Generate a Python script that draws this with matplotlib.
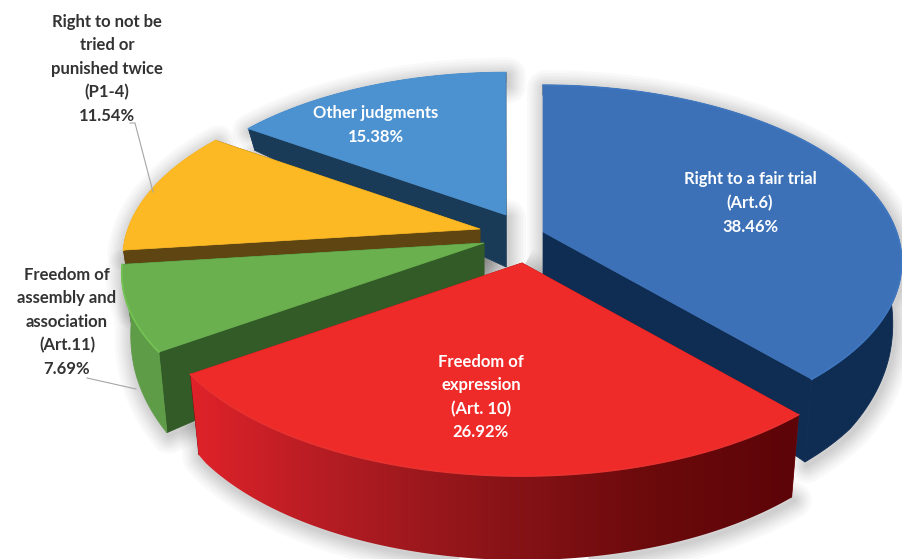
import numpy as np
import matplotlib
matplotlib.use('Agg')
import matplotlib.pyplot as plt
from matplotlib.colors import LinearSegmentedColormap
from matplotlib.patches import Polygon

plt.rcParams['font.family'] = ['Lato', 'DejaVu Sans']

# chart data, clockwise from 12 o'clock
categories = ['Right to a fair trial\n(Art.6)', 'Freedom of\nexpression\n(Art. 10)',
              'Freedom of\nassembly and\nassociation\n(Art.11)',
              'Right to not be\ntried or\npunished twice\n(P1-4)', 'Other judgments']
shares = [38.46, 26.92, 7.69, 11.54, 15.38]

top_colors = ['#3c71b8', '#ef2b2a', '#6ab04f', '#fdb924', '#4c92d1']
cut_colors = ['#0f2c52', '#7a0d10', '#335b27', '#5e4512', '#1a3b57']
# wall gradients run left to right on the page
wall_colors = [['#0f2c52'],
               ['#e0222a', '#b01c22', '#8a1418', '#6c0a0c', '#5c0408'],
               ['#5f9c48'], ['#5e4512'], ['#1a3b57']]
rim_colors = ['#3f77c0', '#e8322f', '#74c455', '#fdb924', '#4c92d1']

# where each slice sits on the page (exploded pie), in pixels
apex = [(543, 232), (522, 263), (484, 243), (480, 229), (506, 215)]
scale = [1.01, 1.04, 1.02, 1.005, 0.98]
draw_order = [4, 3, 0, 2, 1]

label_pos = [(750, 203), (481, 397), (67, 322), (107, 69), (376, 125)]
label_color = ['white', 'white', '#333333', '#333333', 'white']

# perspective of the pie plane
A, B, K = 350.0, 170.0, 0.17


def project(ang, r, i):
    x = r * np.sin(ang)
    y = r * np.cos(ang)
    den = 1 + K * y
    return apex[i][0] + A * scale[i] * x / den, apex[i][1] - B * scale[i] * y / den


def drop(ang, r, i):
    # same point on the underside of the slab
    sx, sy = project(ang, r, i)
    y = r * np.cos(ang)
    depth = np.interp(y, [-1, -0.6, -0.3, 0, 0.6, 1], [84, 82, 69, 52, 20, 10])
    return apex[i][0] + (sx - apex[i][0]) * 0.975, sy + depth


fig = plt.figure(figsize=(9.03, 5.59), dpi=100)
ax = fig.add_axes([0, 0, 1, 1])

edges = np.radians(np.concatenate([[0], np.cumsum(shares)]) * 3.6)

# soft shadow first, under everything
for i in range(len(shares)):
    t = np.linspace(edges[i], edges[i + 1], 80)
    tx, ty = project(t, 1.0, i)
    bx, by = drop(t, 1.0, i)
    ax0, ay0 = project(0.0, 0.0, i)
    dx0, dy0 = drop(0.0, 0.0, i)
    xs = np.concatenate([[ax0], tx, bx[::-1], [dx0]])
    ys = np.concatenate([[ay0], ty, by[::-1], [dy0]])
    for lw in [3, 6, 9, 12, 15, 18, 22, 26]:
        ax.add_patch(Polygon(np.c_[xs + 2, ys + 3], closed=True, fc='none', ec='black',
                             lw=lw, alpha=0.022, joinstyle='round', zorder=1))

for n, i in enumerate(draw_order):
    z = 2 + n * 5
    a0, a1 = edges[i], edges[i + 1]

    # the two cut faces, far one first
    cuts = [a0, a1] if np.cos(a0) > np.cos(a1) else [a1, a0]
    for a in cuts:
        p1 = project(0.0, 0.0, i)
        p2 = project(a, 1.0, i)
        p3 = drop(a, 1.0, i)
        p4 = drop(0.0, 0.0, i)
        ax.add_patch(Polygon([p1, p2, p3, p4], closed=True, fc=cut_colors[i],
                             ec=cut_colors[i], lw=0.5, zorder=z))

    # outer wall: plain polygon, or gradient image clipped to the outline
    t = np.linspace(a0, a1, 121)
    tx, ty = project(t, 1.0, i)
    bx, by = drop(t, 1.0, i)
    outline = np.c_[np.r_[tx, bx[::-1]], np.r_[ty, by[::-1]]]
    if len(wall_colors[i]) == 1:
        ax.add_patch(Polygon(outline, closed=True, fc=wall_colors[i][0],
                             ec=wall_colors[i][0], lw=0.6, zorder=z + 1))
    else:
        wall = Polygon(outline, closed=True, fc='none', ec='none', zorder=z + 1)
        ax.add_patch(wall)
        cmap = LinearSegmentedColormap.from_list('w%d' % i, wall_colors[i])
        im = ax.imshow(np.linspace(0, 1, 256)[None, :], cmap=cmap, aspect='auto',
                       extent=(outline[:, 0].min(), outline[:, 0].max(),
                               outline[:, 1].max(), outline[:, 1].min()),
                       zorder=z + 1)
        im.set_clip_path(wall)

    # top face
    ax0, ay0 = project(0.0, 0.0, i)
    ax.add_patch(Polygon(np.c_[np.r_[ax0, tx], np.r_[ay0, ty]], closed=True,
                         fc=top_colors[i], ec=top_colors[i], lw=0.5, zorder=z + 2))
    ax.plot(tx, ty, color=rim_colors[i], lw=1.2, zorder=z + 3)

# leader lines for the two outside labels
ax.plot([130, 135, 153], [123, 123, 192], color='#a6a6a6', lw=0.8, zorder=40)
ax.plot([87, 136], [378, 389], color='#a6a6a6', lw=0.8, zorder=1.5)

for i in range(len(shares)):
    txt = '%s\n%.2f%%' % (categories[i], shares[i])
    ax.text(label_pos[i][0], label_pos[i][1], txt, ha='center', va='center',
            color=label_color[i], fontsize=12, fontweight='bold', linespacing=1.57,
            zorder=50)

ax.set_xlim(0, 903)
ax.set_ylim(559, 0)
ax.axis('off')

fig.savefig('out.png', dpi=100)
